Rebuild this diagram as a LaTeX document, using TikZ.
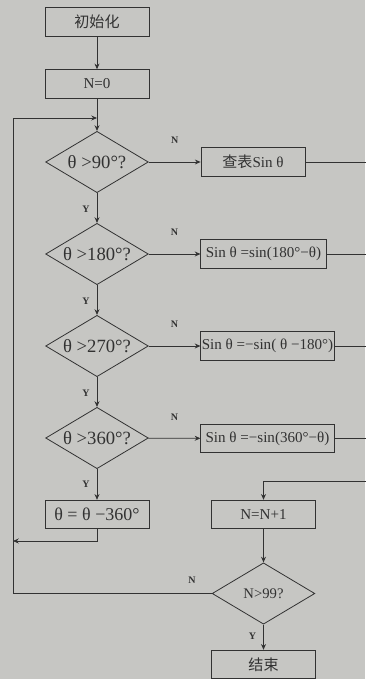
\documentclass[tikz,border=0pt]{standalone}
\usepackage{fontspec}
\setmainfont{Liberation Serif}
\newfontfamily\cjkfont{Noto Sans CJK SC}
\usetikzlibrary{arrows.meta, calc, shapes.geometric}
\definecolor{scanbg}{RGB}{198,198,195}
\definecolor{inkline}{RGB}{50,50,50}

\begin{document}
\begin{tikzpicture}[x=0.75pt, y=-0.75pt, >={Stealth[length=1.5mm, width=1.3mm]}, color=inkline, line width=0.6pt,
  every node/.style={font=\fontsize{11.3}{13}\selectfont},
  procbox/.style={draw, rectangle, inner sep=1pt, minimum width=78pt, minimum height=21.5pt},
  testbox/.style={draw, diamond, aspect=1.7, inner sep=0pt, minimum width=77pt, minimum height=46pt, font=\fontsize{14}{16}\selectfont},
  flag/.style={font=\fontsize{7.5}{9}\selectfont\bfseries}]
  \fill[scanbg] (0,0) rectangle (365,679);
  \useasboundingbox (0,0) rectangle (365,679);
  % main column
  \node[procbox] (init) at (97,22) {\cjkfont 初始化};
  \node[procbox] (nzero) at (97,84) {N=0};
  \node[testbox] (test90) at (97,162) {θ >90°?};
  \node[testbox] (test180) at (97,254) {θ >180°?};
  \node[testbox] (test270) at (97,346) {θ >270°?};
  \node[testbox] (test360) at (97,438) {θ >360°?};
  \node[procbox] (shift) at (97,514.5) {\fontsize{13.5}{15}\selectfont θ = θ −360°};
  % results
  \node[procbox] (lookup) at (253,162) {{\cjkfont 查表}Sin θ};
  \node[procbox, minimum width=94pt, inner sep=0.5pt] (res180) at (263.5,254) {Sin θ =sin(180°−θ)};
  \node[procbox, minimum width=100pt, inner sep=0.5pt] (res270) at (267.5,346) {Sin θ =−sin( θ −180°)};
  \node[procbox, minimum width=100pt, inner sep=0.5pt] (res360) at (267.5,438.5) {Sin θ =−sin(360°−θ)};
  % counter
  \node[procbox] (incr) at (263.5,514.5) {N=N+1};
  \node[testbox, font=\fontsize{11}{13}\selectfont] (test99) at (263.5,593.5) {N>99?};
  \node[procbox] (finish) at (263.5,664.5) {\cjkfont 结束};
  % junctions
  \coordinate (loopin) at (97,118);
  \coordinate (leftbus) at (13,118);
  \coordinate (shiftjoin) at (13,541);
  \coordinate (rightbus) at (368,481);
  % flow
  \draw[->] (init) -- (nzero);
  \draw[->] (nzero) -- (test90);
  \draw[->] (test90) -- (test180) node[flag, pos=0.55, left=2pt] {Y};
  \draw[->] (test180) -- (test270) node[flag, pos=0.55, left=2pt] {Y};
  \draw[->] (test270) -- (test360) node[flag, pos=0.55, left=2pt] {Y};
  \draw[->] (test360) -- (shift) node[flag, pos=0.5, left=2pt] {Y};
  \draw[->] (test90) -- (lookup) node[flag, pos=0.5, above=10pt] {N};
  \draw[->] (test180) -- (res180) node[flag, pos=0.5, above=10pt] {N};
  \draw[->] (test270) -- (res270) node[flag, pos=0.5, above=10pt] {N};
  \draw[->] (test360) -- (res360) node[flag, pos=0.5, above=10pt] {N};
  \draw[->] (shift.south) |- (shiftjoin);
  \draw (lookup.east) -- (lookup.east -| rightbus) -- (rightbus);
  \draw (res180.east) -- (res180.east -| rightbus);
  \draw (res270.east) -- (res270.east -| rightbus);
  \draw (res360.east) -- (res360.east -| rightbus);
  \draw[->] (rightbus) -| (incr.north);
  \draw[->] (incr) -- (test99);
  \draw[->] (test99) -- (finish) node[flag, pos=0.45, left=2pt] {Y};
  \draw[->] (test99.west) -- (test99.west -| leftbus) node[flag, pos=0.1, above=4pt] {N} -- (leftbus) -- (loopin);
\end{tikzpicture}
\end{document}
